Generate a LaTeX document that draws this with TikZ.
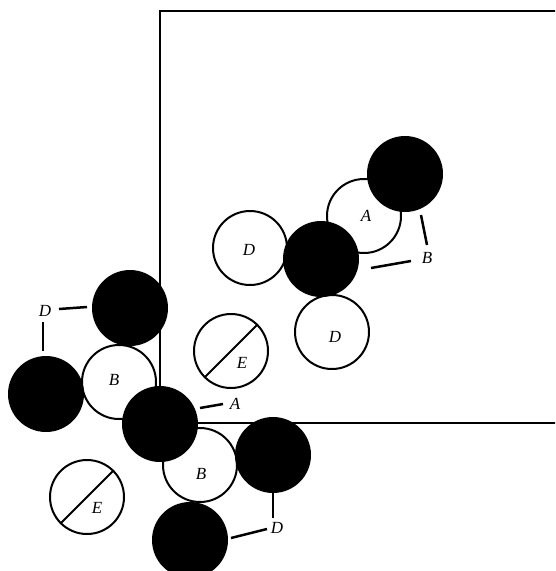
\documentclass[tikz,border=0pt]{standalone}
\usepackage{fontspec}
\setmainfont{Liberation Serif}
\begin{document}
\begin{tikzpicture}[x=1pt,y=-1pt,
  ball/.style={circle,draw=black,line width=2pt,minimum size=74pt,inner sep=0pt},
  dark/.style={ball,fill=black},
  light/.style={ball,fill=white},
  lbl/.style={font=\fontsize{17}{20}\selectfont\itshape,inner sep=0pt},
  leader/.style={line width=2.5pt},
  frame/.style={line width=1.4pt}]
\useasboundingbox (0,0) rectangle (555,571);
\clip (0,0) rectangle (555,571);
% frame (open on the right)
\coordinate (fTR) at (560,11);
\coordinate (fTL) at (160,11);
\coordinate (fBL) at (160,423);
\coordinate (fBR) at (560,423);
\draw[frame] (fTR) -- (fTL) -- (fBL) -- (fBR);
% upper-right group
\node[light] (uA) at (364,216) {};
\node[dark] (uTop) at (405,174) {};
\node[light] (uDl) at (250,248) {};
\node[light] (uDb) at (332,332) {};
\node[dark] (uMid) at (321,259) {};
\node[lbl] (tA1) at (366,216) {A};
\node[lbl] (tD1) at (249,250) {D};
\node[lbl] (tD2) at (335,337) {D};
\node[lbl] (lB1) at (427,258) {B};
\coordinate (b1a) at (371,268);
\coordinate (b1b) at (411,261);
\coordinate (b2a) at (421,215);
\coordinate (b2b) at (427,245);
\draw[leader] (b1a) -- (b1b);
\draw[leader] (b2a) -- (b2b);
% E circle (upper)
\node[light] (e1) at (231,351) {};
\draw[line width=2pt] (e1.south west) -- (e1.north east);
\node[lbl] (tE1) at (242,363) {E};
% lower-left group
\node[dark] (lTop) at (130,308) {};
\node[light] (lB) at (119,382) {};
\node[dark] (lLeft) at (46,394) {};
\node[light] (lB2) at (200,465) {};
\node[dark] (lCen) at (160,424) {};
\node[dark] (lRight) at (273,455) {};
\node[dark] (lBot) at (190,540) {};
\node[lbl] (tB2) at (114,380) {B};
\node[lbl] (tB3) at (201,474) {B};
\node[lbl] (lD1) at (45,311) {D};
\coordinate (d1a) at (59,309);
\coordinate (d1b) at (87,307);
\coordinate (d1c) at (43,322);
\coordinate (d1d) at (43,351);
\draw[leader] (d1a) -- (d1b);
\draw[leader] (d1c) -- (d1d);
\node[lbl] (lA) at (235,404) {A};
\coordinate (a1a) at (200,408);
\coordinate (a1b) at (223,404);
\draw[leader] (a1a) -- (a1b);
\node[lbl] (lD2) at (277,528) {D};
\coordinate (d2a) at (231,538);
\coordinate (d2b) at (267,529);
\coordinate (d2c) at (273,493);
\coordinate (d2d) at (273,518);
\draw[leader] (d2a) -- (d2b);
\draw[leader] (d2c) -- (d2d);
% E circle (lower)
\node[light] (e2) at (87,497) {};
\draw[line width=2pt] (e2.south west) -- (e2.north east);
\node[lbl] (tE2) at (97,508) {E};
\end{tikzpicture}
\end{document}
